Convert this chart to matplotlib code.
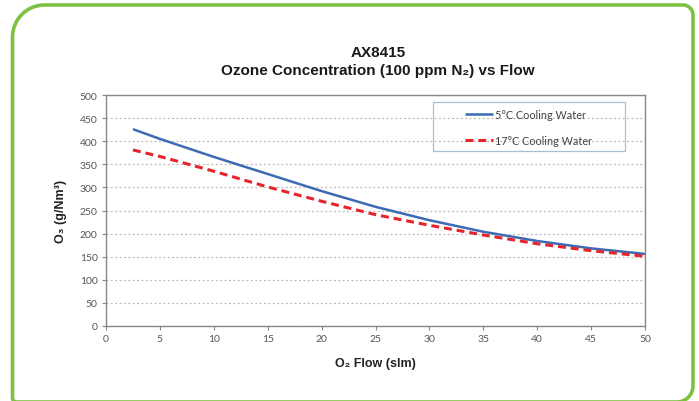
import matplotlib.pyplot as plt
from matplotlib.path import Path
from matplotlib.patches import PathPatch, Rectangle

flow = [2.5, 5, 10, 15, 20, 25, 30, 35, 40, 45, 50]
cool_5c = [426, 405, 366, 329, 292, 258, 229, 204, 184, 168, 156]
cool_17c = [381, 367, 335, 301, 270, 241, 218, 197, 178, 163, 151]

x_ticks = list(range(0, 51, 5))
y_ticks = list(range(0, 501, 50))

title = "AX8415\nOzone Concentration (100 ppm N\u2082) vs Flow"
x_label = "O\u2082 Flow (slm)"
y_label = "O\u2083 (g/Nm\u00b3)"
labels = ["5\u00b0C Cooling Water", "17\u00b0C Cooling Water"]

W, H = 699, 402
fig = plt.figure(figsize=(W / 100, H / 100), dpi=100)

# green frame, drawn in pixel coordinates
bg = fig.add_axes([0, 0, 1, 1])
bg.set_xlim(0, W)
bg.set_ylim(H, 0)
bg.axis("off")
l, t, r, b = 12.5, 6, 693, 403
rtl, rtr, rbr, rbl = 32, 10, 16, 4
k = 0.5523
verts = [
    (l, t + rtl), (l, t + rtl * (1 - k)), (l + rtl * (1 - k), t), (l + rtl, t),
    (r - rtr, t), (r - rtr * (1 - k), t), (r, t + rtr * (1 - k)), (r, t + rtr),
    (r, b - rbr), (r, b - rbr * (1 - k)), (r - rbr * (1 - k), b), (r - rbr, b),
    (l + rbl, b), (l + rbl * (1 - k), b), (l, b - rbl * (1 - k)), (l, b - rbl),
    (l, t + rtl),
]
codes = [Path.MOVETO, Path.CURVE4, Path.CURVE4, Path.CURVE4,
         Path.LINETO, Path.CURVE4, Path.CURVE4, Path.CURVE4,
         Path.LINETO, Path.CURVE4, Path.CURVE4, Path.CURVE4,
         Path.LINETO, Path.CURVE4, Path.CURVE4, Path.CURVE4,
         Path.CLOSEPOLY]
bg.add_patch(PathPatch(Path(verts, codes), facecolor="white",
                       edgecolor="#7dc142", lw=2.6, clip_on=False))
# legend box
bg.add_patch(Rectangle((433, 103), 192, 49, facecolor="white",
                       edgecolor="#a9bcd8", lw=0.9, zorder=5))

ax = fig.add_axes([106 / W, (H - 327) / H, (645 - 106) / W, (327 - 96) / H])
ax.set_facecolor("none")

ax.plot(flow, cool_5c, color="#3c6bb3", lw=1.8, label=labels[0],
        solid_capstyle="butt")
ax.plot(flow, cool_17c, color="#e4252b", lw=2.2, ls=(0, (2.6, 1.6)),
        label=labels[1])

ax.set_xlim(0, 50)
ax.set_ylim(0, 500)
ax.set_xticks(x_ticks)
ax.set_yticks(y_ticks)
ax.grid(axis="y", color="#b8b8b8", lw=0.9, ls=(0, (1.5, 2)))
ax.set_axisbelow(True)

for s in ax.spines.values():
    s.set_color("#8c8580")
    s.set_linewidth(1.0)

ax.tick_params(axis="both", length=3, width=0.8, color="#8c8580",
               labelsize=7.5, labelcolor="#555555", pad=3)
for lab in ax.get_xticklabels() + ax.get_yticklabels():
    lab.set_family(["Lato", "DejaVu Sans"])

font = ["Liberation Sans", "DejaVu Sans"]
ax.set_xlabel(x_label, fontsize=9, fontweight="bold", family=font,
              color="#222222", labelpad=10)
ax.set_ylabel(y_label, fontsize=9, fontweight="bold", family=font,
              color="#222222", labelpad=9)
fig.text(378 / W, 1 - 62 / H, title, ha="center", va="center",
         fontsize=11, fontweight="bold", family=font, color="#1a1a1a",
         linespacing=1.45)

leg = ax.legend(loc="center left", bbox_to_anchor=(465 / W, 1 - 128.5 / H),
                bbox_transform=fig.transFigure, frameon=False,
                prop={"family": ["Lato", "DejaVu Sans"], "size": 7.8},
                handlelength=2.6, handletextpad=0.2, borderpad=0,
                labelspacing=1.35, borderaxespad=0)
leg.set_zorder(6)
for txt in leg.get_texts():
    txt.set_color("#444444")

fig.savefig("out.png", dpi=100)
